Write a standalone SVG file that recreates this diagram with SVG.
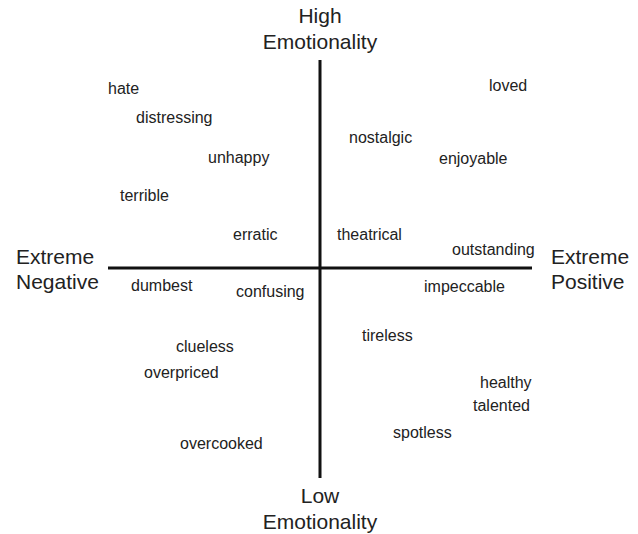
<svg xmlns="http://www.w3.org/2000/svg" width="638" height="534" viewBox="0 0 638 534">
<style>
text{font-family:"Liberation Sans",Arial,sans-serif;fill:#222}
.ax{font-size:21px}
.w{font-size:16px}
.line{stroke:#111;stroke-width:3}
</style>
<rect width="638" height="534" fill="#fff"/>
<g id="connectors">
<line class="line" x1="320" y1="60" x2="320" y2="478"/>
<line class="line" x1="108" y1="268" x2="532" y2="268"/>
</g>
<g id="axis-high"><text class="ax" x="320" y="23" text-anchor="middle">High</text><text class="ax" x="320" y="49" text-anchor="middle">Emotionality</text></g>
<g id="axis-low"><text class="ax" x="320" y="503" text-anchor="middle">Low</text><text class="ax" x="320" y="529" text-anchor="middle">Emotionality</text></g>
<g id="axis-neg"><text class="ax" x="16" y="264">Extreme</text><text class="ax" x="16" y="289">Negative</text></g>
<g id="axis-pos"><text class="ax" x="551" y="264">Extreme</text><text class="ax" x="551" y="289">Positive</text></g>
<g id="words">
<text class="w" x="108" y="94">hate</text>
<text class="w" x="136" y="123">distressing</text>
<text class="w" x="208" y="163">unhappy</text>
<text class="w" x="120" y="201">terrible</text>
<text class="w" x="233" y="240">erratic</text>
<text class="w" x="131" y="291">dumbest</text>
<text class="w" x="236" y="297">confusing</text>
<text class="w" x="176" y="352">clueless</text>
<text class="w" x="144" y="378">overpriced</text>
<text class="w" x="180" y="449">overcooked</text>
<text class="w" x="489" y="91">loved</text>
<text class="w" x="349" y="143">nostalgic</text>
<text class="w" x="439" y="164">enjoyable</text>
<text class="w" x="337" y="240">theatrical</text>
<text class="w" x="452" y="255">outstanding</text>
<text class="w" x="424" y="292">impeccable</text>
<text class="w" x="362" y="341">tireless</text>
<text class="w" x="480" y="388">healthy</text>
<text class="w" x="473" y="411">talented</text>
<text class="w" x="393" y="438">spotless</text>
</g>
</svg>
